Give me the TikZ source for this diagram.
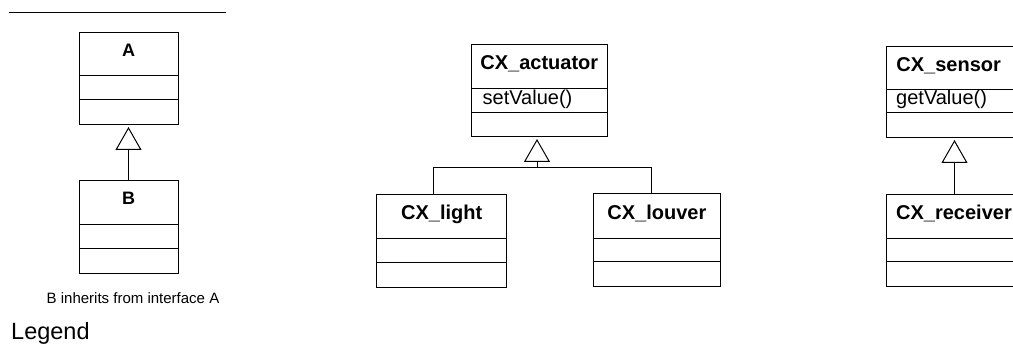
\documentclass[tikz,border=0pt]{standalone}
\usepackage{fontspec}
\setmainfont{Liberation Sans}
\usetikzlibrary{arrows.meta}

% UML class outline with two compartment dividers
% #1 name, #2 left, #3 top, #4 width, #5 height, #6 first divider, #7 second divider
\newcommand\umlclassbox[7]{%
  \node[classbox, minimum width=#4pt, minimum height=#5pt, anchor=north west] (#1) at (#2,#3) {};
  \draw[classline] ([yshift=-#6pt]#1.north west) -- ([yshift=-#6pt]#1.north east);
  \draw[classline] ([yshift=-#7pt]#1.north west) -- ([yshift=-#7pt]#1.north east);
}

\tikzset{
  classline/.style={draw=black, line width=1pt},
  classbox/.style={classline, rectangle, inner sep=0pt, outer sep=0pt},
  titletext/.style={font=\fontsize{20}{24}\selectfont\bfseries, inner sep=0pt, anchor=base},
  legendtitle/.style={font=\fontsize{18}{22}\selectfont\bfseries, inner sep=0pt, anchor=base},
  membertext/.style={font=\fontsize{20}{24}\selectfont, inner sep=0pt, anchor=base west},
  inherits/.style={classline, -{Triangle[open, length=23pt, width=26pt]}, shorten >=2pt},
}

\begin{document}
\begin{tikzpicture}[x=1pt, y=-1pt]
  \useasboundingbox (0,0) rectangle (1013,347);
  \clip (0,0) rectangle (1013,347);

  % ---- legend ----
  \coordinate (rulestart) at (9,13);
  \coordinate (ruleend) at (226,13);
  \draw[classline] (rulestart) -- (ruleend);

  \umlclassbox{A}{79}{33}{99}{92}{43}{67}
  \node[legendtitle] (Atitle) at (128.5,57) {A};

  \umlclassbox{B}{79}{181}{99}{93}{44}{68}
  \node[legendtitle] (Btitle) at (128.5,205) {B};

  \draw[inherits] (B.north) -- (A.south);

  \node[font=\fontsize{15}{18}\selectfont, inner sep=0pt, anchor=base] (note) at (133,304)
    {B inherits from interface A};
  \node[font=\fontsize{23.5}{28}\selectfont, inner sep=0pt, anchor=base west] (legend) at (11,340)
    {Legend};

  % ---- actuators ----
  \umlclassbox{act}{471.7}{45}{135.3}{92}{43.3}{67.3}
  \node[titletext] (acttitle) at (539.3,70) {CX\_actuator};
  \node[membertext] (actattr) at (482.5,105) {setValue()};

  \umlclassbox{light}{376.7}{195}{130}{93}{43.7}{67.7}
  \node[titletext] (lighttitle) at (441.7,220) {CX\_light};

  \umlclassbox{louver}{593}{194}{127.7}{92.7}{44.3}{67.7}
  \node[titletext] (louvertitle) at (656.9,220) {CX\_louver};

  \coordinate (jl) at (433,167.7);
  \coordinate (jm) at (537,167.7);
  \coordinate (jr) at (651,167.7);
  \draw[classline] (jl |- light.north) -- (jl) -- (jr) -- (jr |- louver.north);
  \draw[inherits] (jm) -- (jm |- act.south);

  % ---- sensors ----
  \umlclassbox{sensor}{886.7}{46.7}{135.6}{91.3}{42.6}{66}
  \node[titletext] (sensortitle) at (948.7,71.7) {CX\_sensor};
  \node[membertext] (sensorattr) at (896,105) {getValue()};

  \umlclassbox{receiver}{886.7}{195}{135.6}{91.7}{44}{66.7}
  \node[titletext] (receivertitle) at (954,220) {CX\_receiver};

  \draw[inherits] (receiver.north) -- (sensor.south);
\end{tikzpicture}
\end{document}
